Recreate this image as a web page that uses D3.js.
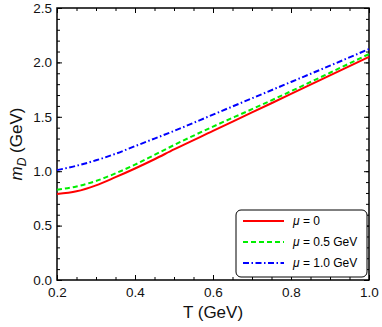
<!DOCTYPE html>
<html>
<head>
<meta charset="utf-8">
<script src="https://cdn.jsdelivr.net/npm/d3@7"></script>
<style>
  body { margin: 0; background: #fff; }
  svg { font-family: "Liberation Sans", Arial, sans-serif; }
</style>
</head>
<body>
<div id="chart"></div>
<script>
// temperatures (GeV)
const T = [0.2, 0.25, 0.3, 0.35, 0.4, 0.45, 0.5, 0.6, 0.7, 0.8, 0.9, 1.0];
// Debye mass m_D (GeV) for each chemical potential
const mu0 = [0.79, 0.815, 0.87, 0.945, 1.025, 1.11, 1.20, 1.37, 1.54, 1.71, 1.88, 2.05];
const mu05 = [0.83, 0.86, 0.91, 0.98, 1.06, 1.15, 1.24, 1.41, 1.57, 1.735, 1.905, 2.077];
const mu10 = [1.01, 1.05, 1.10, 1.16, 1.23, 1.30, 1.37, 1.52, 1.67, 1.82, 1.97, 2.123];
const xTicks = [0.2, 0.4, 0.6, 0.8, 1.0];
const yTicks = [0, 0.5, 1.0, 1.5, 2.0, 2.5];

const series = [
  { values: mu0, color: "#ff0000", dash: null, label: "= 0" },
  { values: mu05, color: "#00ee00", dash: "5,3", label: "= 0.5 GeV" },
  { values: mu10, color: "#0000ff", dash: "6,2.5,1.5,2.5", label: "= 1.0 GeV" }
];

const W = 382, H = 327;
const m = { left: 57, right: 13, top: 8, bottom: 47 };

const svg = d3.select("#chart").append("svg")
  .attr("width", W).attr("height", H);

const x = d3.scaleLinear().domain([0.2, 1.0]).range([m.left, W - m.right]);
const y = d3.scaleLinear().domain([0, 2.5]).range([H - m.bottom, m.top]);

const xMinor = d3.range(0.2, 1.0001, 0.05);
const yMinor = d3.range(0, 2.5001, 0.1);

function styleAxis(g) {
  g.select(".domain").remove();
  g.selectAll("line").attr("stroke", "#000").attr("stroke-width", 1);
  g.selectAll("text").attr("font-size", 13.5).attr("fill", "#111");
}

// bottom
svg.append("g").attr("transform", `translate(0,${y(0)})`)
  .call(d3.axisBottom(x).tickValues(xMinor).tickSize(-3).tickFormat(""))
  .call(styleAxis);
svg.append("g").attr("transform", `translate(0,${y(0)})`)
  .call(d3.axisBottom(x).tickValues(xTicks).tickSize(-5).tickPadding(7).tickFormat(d3.format(".1f")))
  .call(styleAxis);
// top
svg.append("g").attr("transform", `translate(0,${y(2.5)})`)
  .call(d3.axisTop(x).tickValues(xMinor).tickSize(-3).tickFormat(""))
  .call(styleAxis);
svg.append("g").attr("transform", `translate(0,${y(2.5)})`)
  .call(d3.axisTop(x).tickValues(xTicks).tickSize(-5).tickFormat(""))
  .call(styleAxis);
// left
svg.append("g").attr("transform", `translate(${x(0.2)},0)`)
  .call(d3.axisLeft(y).tickValues(yMinor).tickSize(-3).tickFormat(""))
  .call(styleAxis);
svg.append("g").attr("transform", `translate(${x(0.2)},0)`)
  .call(d3.axisLeft(y).tickValues(yTicks).tickSize(-5).tickPadding(5).tickFormat(d3.format(".1f")))
  .call(styleAxis);
// right
svg.append("g").attr("transform", `translate(${x(1.0)},0)`)
  .call(d3.axisRight(y).tickValues(yMinor).tickSize(-3).tickFormat(""))
  .call(styleAxis);
svg.append("g").attr("transform", `translate(${x(1.0)},0)`)
  .call(d3.axisRight(y).tickValues(yTicks).tickSize(-5).tickFormat(""))
  .call(styleAxis);

// frame
svg.append("rect")
  .attr("x", x(0.2)).attr("y", y(2.5))
  .attr("width", x(1.0) - x(0.2)).attr("height", y(0) - y(2.5))
  .attr("fill", "none").attr("stroke", "#000").attr("stroke-width", 1.5);

// curves
const line = d3.line().curve(d3.curveMonotoneX);
series.forEach(s => {
  svg.append("path")
    .attr("d", line(T.map((t, i) => [x(t), y(s.values[i])])))
    .attr("fill", "none")
    .attr("stroke", s.color)
    .attr("stroke-width", 2)
    .attr("stroke-dasharray", s.dash);
});

// axis labels
svg.append("text")
  .attr("x", x(0.6)).attr("y", 318)
  .attr("text-anchor", "middle").attr("font-size", 17).attr("fill", "#111")
  .text("T (GeV)");

const yl = svg.append("text")
  .attr("transform", `translate(22,${y(1.25)}) rotate(-90)`)
  .attr("text-anchor", "middle").attr("font-size", 17).attr("fill", "#111");
yl.append("tspan").attr("font-style", "italic").text("m");
yl.append("tspan").attr("font-size", 12).attr("font-style", "italic").attr("dy", 4).text("D");
yl.append("tspan").attr("dy", -4).text(" (GeV)");

// legend
const lg = svg.append("g").attr("transform", "translate(236,210)");
lg.append("rect")
  .attr("width", 131).attr("height", 67).attr("rx", 5)
  .attr("fill", "#fff").attr("stroke", "#000").attr("stroke-width", 1);
series.forEach((s, i) => {
  const yy = 11 + i * 21;
  lg.append("line")
    .attr("x1", 7).attr("x2", 48).attr("y1", yy).attr("y2", yy)
    .attr("stroke", s.color).attr("stroke-width", 2)
    .attr("stroke-dasharray", s.dash);
  const t = lg.append("text").attr("x", 57).attr("y", yy + 4).attr("font-size", 12);
  t.append("tspan").attr("font-style", "italic").text("μ");
  t.append("tspan").text(" " + s.label);
});
</script>
</body>
</html>
